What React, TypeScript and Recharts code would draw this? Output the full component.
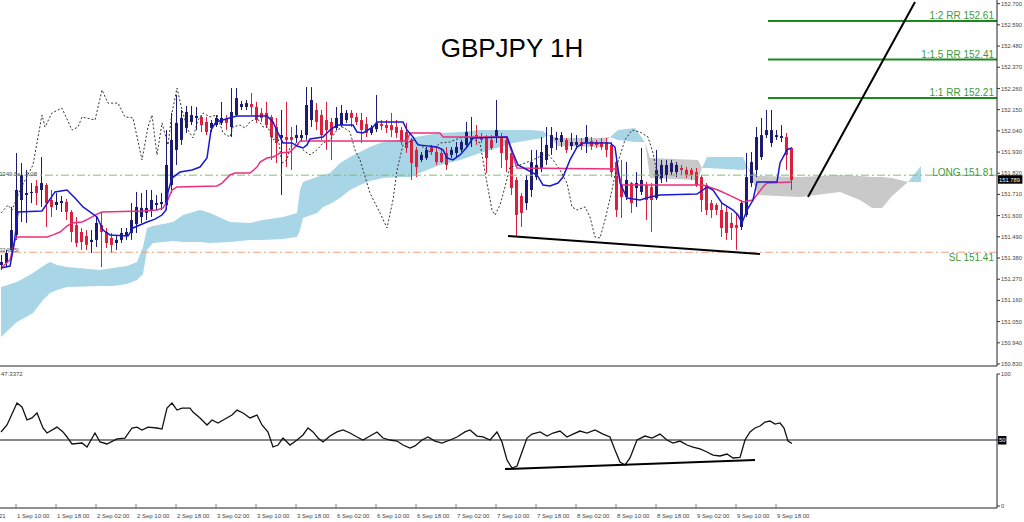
import React from "react";
import { Area, Bar, ComposedChart, Line, ReferenceLine, XAxis, YAxis } from "recharts";

// bar index 0 = 1 Sep 10:00, one bar per hour (weekend skipped)
const FIRST_BAR = -3;
const X_DOMAIN: [number, number] = [-3.2, 196.2];

const openPrices = [
  151.344, 151.354, 151.422, 151.5, 151.681, 151.707, 151.717, 151.754, 151.733, 151.759,
  151.681, 151.655, 151.665, 151.671, 151.619, 151.551, 151.515, 151.494, 151.463, 151.474,
  151.551, 151.515, 151.484, 151.458, 151.474, 151.494, 151.51, 151.556, 151.593, 151.614,
  151.629, 151.655, 151.66, 151.655, 151.759, 151.941, 151.993, 152.055, 152.086, 152.107,
  152.112, 152.086, 152.055, 152.07, 152.081, 152.101, 152.06, 152.122, 152.164, 152.164,
  152.179, 152.164, 152.133, 152.133, 152.112, 152.06, 152.003, 152.008, 152.008, 152.003,
  152.003, 152.018, 152.096, 152.148, 152.122, 152.096, 152.086, 152.055, 152.07, 152.096,
  152.133, 152.112, 152.096, 152.075, 152.029, 152.049, 152.075, 152.07, 152.07, 152.06,
  152.044, 152.034, 151.993, 151.941, 151.889, 151.899, 151.956, 151.93, 151.925, 151.925,
  151.915, 151.925, 151.941, 151.967, 151.993, 152.018, 152.008, 152.008, 151.993, 152.003,
  152.008, 151.993, 151.925, 151.785, 151.702, 151.665, 151.733, 151.8, 151.847, 151.889,
  151.951, 151.993, 151.982, 151.993, 151.961, 151.967, 151.982, 151.977, 151.987, 151.982,
  151.982, 151.982, 151.967, 151.878, 151.759, 151.697, 151.769, 151.743, 151.723, 151.759,
  151.749, 151.691, 151.795, 151.811, 151.826, 151.826, 151.847, 151.837, 151.837, 151.826,
  151.8, 151.759, 151.665, 151.655, 151.629, 151.619, 151.562, 151.551, 151.541, 151.603,
  151.769, 151.837, 151.904, 152.018, 151.977, 152.008, 152.003, 152.008, 151.951,
];
const highPrices = [
  151.396, 151.422, 151.645, 151.925, 151.873, 151.837, 151.769, 151.785, 151.904, 151.769,
  151.733, 151.717, 151.702, 151.686, 151.629, 151.593, 151.536, 151.525, 151.525, 151.593,
  151.614, 151.536, 151.51, 151.494, 151.536, 151.536, 151.665, 151.723, 151.717, 151.733,
  151.733, 151.707, 151.717, 152.044, 152.133, 152.226, 152.148, 152.169, 152.169, 152.164,
  152.122, 152.112, 152.096, 152.122, 152.19, 152.122, 152.262, 152.262, 152.195, 152.2,
  152.236, 152.19, 152.158, 152.19, 152.122, 152.107, 152.148, 152.19, 152.06, 152.07,
  152.044, 152.267, 152.267, 152.184, 152.148, 152.19, 152.107, 152.164, 152.174, 152.148,
  152.148, 152.133, 152.133, 152.112, 152.07, 152.226, 152.096, 152.096, 152.133, 152.096,
  152.06, 152.081, 152.003, 151.956, 151.93, 151.956, 151.967, 151.956, 151.951, 151.956,
  151.956, 151.982, 151.993, 152.086, 152.112, 152.07, 152.029, 152.018, 152.018, 152.2,
  152.029, 152.003, 151.956, 151.8, 151.717, 151.811, 151.941, 151.941, 152.008, 152.06,
  152.06, 152.034, 152.034, 152.003, 152.029, 152.018, 152.003, 152.07, 152.008, 151.993,
  152.003, 152.003, 151.982, 151.915, 151.889, 151.878, 151.775, 151.826, 151.951, 151.775,
  151.769, 151.941, 151.889, 151.889, 151.889, 151.878, 151.863, 151.852, 151.847, 151.847,
  151.811, 151.769, 151.681, 151.665, 151.665, 151.645, 151.614, 151.614, 151.681, 151.925,
  151.93, 152.06, 152.107, 152.148, 152.148, 152.044, 152.07, 152.029, 151.956,
];
const lowPrices = [
  151.318, 151.338, 151.396, 151.474, 151.567, 151.562, 151.665, 151.655, 151.645, 151.541,
  151.593, 151.629, 151.619, 151.577, 151.463, 151.437, 151.422, 151.422, 151.406, 151.437,
  151.333, 151.432, 151.406, 151.422, 151.458, 151.474, 151.474, 151.51, 151.562, 151.577,
  151.593, 151.629, 151.629, 151.629, 151.717, 151.863, 151.967, 152.029, 152.07, 152.044,
  152.034, 152.018, 152.034, 152.06, 152.07, 152.044, 152.008, 152.112, 152.148, 152.148,
  152.122, 152.081, 152.086, 152.055, 151.889, 151.873, 151.707, 151.852, 151.837, 151.977,
  151.982, 151.993, 152.06, 152.044, 151.993, 151.941, 151.889, 152.044, 152.06, 152.081,
  152.06, 152.07, 151.977, 152.008, 152.018, 152.034, 152.044, 152.029, 152.008, 152.003,
  151.967, 151.925, 151.785, 151.8, 151.878, 151.889, 151.915, 151.863, 151.873, 151.837,
  151.899, 151.904, 151.93, 151.956, 151.956, 151.967, 151.977, 151.821, 151.941, 151.977,
  151.847, 151.826, 151.707, 151.489, 151.541, 151.629, 151.697, 151.785, 151.826, 151.863,
  151.915, 151.941, 151.956, 151.925, 151.941, 151.951, 151.941, 151.925, 151.941, 151.951,
  151.941, 151.904, 151.8, 151.593, 151.588, 151.681, 151.614, 151.645, 151.707, 151.577,
  151.515, 151.681, 151.769, 151.775, 151.811, 151.8, 151.811, 151.795, 151.785, 151.749,
  151.619, 151.603, 151.588, 151.603, 151.489, 151.474, 151.474, 151.422, 151.525, 151.593,
  151.749, 151.8, 151.889, 152.003, 151.956, 151.993, 151.982, 151.837, 151.733,
];
const closePrices = [
  151.359, 151.406, 151.525, 151.733, 151.811, 151.717, 151.723, 151.717, 151.769, 151.665,
  151.645, 151.671, 151.676, 151.619, 151.515, 151.458, 151.463, 151.448, 151.474, 151.562,
  151.515, 151.458, 151.448, 151.474, 151.51, 151.515, 151.577, 151.645, 151.64, 151.64,
  151.681, 151.665, 151.671, 151.863, 151.993, 152.081, 152.107, 152.138, 152.122, 152.117,
  152.07, 152.034, 152.081, 152.107, 152.107, 152.081, 152.138, 152.21, 152.179, 152.184,
  152.164, 152.096, 152.107, 152.07, 152.008, 151.977, 152.018, 151.993, 151.993, 152.018,
  152.018, 152.174, 152.2, 152.086, 152.018, 152.044, 152.018, 152.107, 152.133, 152.133,
  152.107, 152.086, 152.044, 152.029, 152.055, 152.081, 152.065, 152.055, 152.044, 152.029,
  151.982, 151.951, 151.873, 151.852, 151.915, 151.941, 151.93, 151.878, 151.878, 151.863,
  151.941, 151.956, 151.982, 152.034, 152.008, 152.003, 151.993, 151.899, 151.951, 152.044,
  151.925, 151.889, 151.743, 151.603, 151.614, 151.785, 151.878, 151.863, 151.93, 151.967,
  152.018, 152.003, 152.018, 151.941, 151.982, 151.982, 151.961, 152.008, 151.961, 151.967,
  151.956, 151.941, 151.826, 151.629, 151.697, 151.785, 151.665, 151.769, 151.785, 151.681,
  151.681, 151.837, 151.863, 151.863, 151.873, 151.863, 151.837, 151.811, 151.811, 151.759,
  151.681, 151.629, 151.629, 151.629, 151.536, 151.51, 151.536, 151.536, 151.665, 151.8,
  151.878, 152.008, 152.018, 152.044, 152.044, 152.018, 152.013, 151.915, 151.785,
];
const lastPrice = 151.789;

// [bar index, price]
const tenkanLine: [number, number][] = [
  [-3, 151.328], [-1.2, 151.338], [-0.4, 151.448], [0.4, 151.619], [5.2, 151.624], [7.8, 151.723],
  [10.2, 151.733], [11.8, 151.691], [13.4, 151.645], [16.2, 151.593], [17.4, 151.525], [18.8, 151.5],
  [22.4, 151.494], [23.4, 151.536], [26.2, 151.567], [27.8, 151.582], [29.2, 151.603], [30, 151.629],
  [30.4, 151.723], [31.2, 151.795], [32.8, 151.826], [35.2, 151.837], [36.8, 151.852], [38.2, 151.899],
  [39, 152.044], [40, 152.086], [43.4, 152.112], [44.2, 152.117], [50.2, 152.117], [51.4, 152.086],
  [52.4, 152.029], [53.4, 151.977], [55.2, 151.977], [56.2, 151.961], [57.4, 151.951], [58.2, 151.967],
  [58.8, 151.998], [61.4, 152.008], [62.8, 152.044], [64.2, 152.07], [67.4, 152.07], [68.2, 152.034],
  [69.4, 152.029], [71.4, 152.06], [72.2, 152.086], [77.4, 152.086], [78.2, 152.044], [79.4, 152.008],
  [80.4, 151.967], [84.2, 151.956], [85.4, 151.941], [86.2, 151.899], [87.4, 151.889], [88.8, 151.915],
  [90.2, 151.956], [91.4, 152.003], [98.2, 152.008], [99.4, 151.925], [100.4, 151.863], [104.2, 151.811],
  [105.4, 151.759], [106.8, 151.754], [108.4, 151.769], [109.4, 151.8], [110.8, 151.889], [112.2, 151.956],
  [113.4, 151.977], [118.8, 151.977], [119.8, 151.956], [120.8, 151.769], [122.2, 151.691], [124.8, 151.681],
  [126.8, 151.697], [128.8, 151.707], [136.2, 151.712], [137.4, 151.733], [138.2, 151.749], [139.4, 151.733],
  [141.2, 151.665], [143.4, 151.629], [144.4, 151.603], [145.2, 151.562], [146.2, 151.629], [147.4, 151.681],
  [148.2, 151.775], [152.2, 151.775], [152.8, 151.873], [154.2, 151.941], [155, 151.951],
];
const kijunLine: [number, number][] = [
  [-3, 151.328], [-1.2, 151.37], [-0.2, 151.474], [0.2, 151.489], [6.2, 151.489], [7.4, 151.5],
  [8.8, 151.515], [10.2, 151.546], [11.2, 151.562], [13.2, 151.567], [14.4, 151.582], [16.2, 151.608],
  [17.2, 151.619], [25.4, 151.624], [28.2, 151.629], [29.4, 151.64], [30.2, 151.671], [31.2, 151.733],
  [32.2, 151.749], [40.2, 151.754], [41.2, 151.769], [42.8, 151.811], [43.8, 151.821], [46.8, 151.821],
  [48.2, 151.852], [48.8, 151.878], [50.2, 151.899], [51.4, 151.904], [52.8, 151.925], [54.8, 151.93],
  [56.2, 151.967], [56.8, 151.987], [78.2, 151.987], [78.8, 152.029], [84.8, 152.029], [85.4, 152.008],
  [98.2, 152.008], [99, 151.941], [100.2, 151.847], [120.2, 151.842], [121.2, 151.759], [137.4, 151.759],
  [140.4, 151.733], [143.4, 151.697], [145.4, 151.671], [147.4, 151.681], [149.4, 151.749], [150.2, 151.769],
  [155, 151.775],
];
const chikouLine: [number, number][] = [
  [-3, 151.614], [-1.6, 151.655], [-0.8, 151.629], [0.8, 151.733], [3.4, 151.863], [5.2, 152.122],
  [5.8, 152.06], [7.2, 152.133], [9.2, 152.158], [11.2, 152.044], [12.4, 152.06], [13.2, 152.112],
  [15.8, 152.096], [17.2, 152.252], [18.4, 152.184], [20.4, 152.184], [21.8, 152.112], [23.4, 152.107],
  [25.2, 151.889], [26.4, 152.06], [27.2, 152.122], [28.2, 151.915], [29.2, 152.081], [30.4, 151.967],
  [31.2, 152.133], [32.2, 152.262], [33.2, 152.148], [34.4, 152.044], [35.4, 152.003], [36.4, 152.096],
  [37.4, 152.133], [38.8, 152.112], [40.2, 152.122], [41.4, 152.029], [42.8, 152.008], [43.4, 152.06],
  [44.8, 152.07], [45.8, 152.055], [46.8, 152.086], [48.2, 152.107], [49.4, 152.06], [50.4, 152.06],
  [51.4, 151.993], [52.4, 152.008], [53.2, 151.873], [54.2, 151.889], [54.8, 151.956], [56.2, 151.977],
  [57.4, 151.941], [58.8, 151.915], [60.2, 151.941], [61.4, 151.977], [62.8, 151.993], [64.2, 152.044],
  [65.4, 152.06], [66.8, 152.034], [67.8, 151.941], [68.8, 151.889], [70.8, 151.717], [72.8, 151.614],
  [74.2, 151.536], [75.4, 151.681], [76.2, 151.837], [77.4, 151.967], [79.4, 151.993], [81.4, 151.956],
  [82.8, 151.93], [84.8, 151.977], [86.8, 151.982], [88.8, 152.003], [90.8, 152.008], [92.8, 151.977],
  [94.2, 151.769], [95.2, 151.629], [95.8, 151.603], [96.8, 151.655], [97.8, 151.749], [98.8, 151.852],
  [100.8, 151.863], [103.4, 151.889], [106.2, 151.925], [107.4, 151.889], [108.8, 151.837], [110.2, 151.769],
  [111.2, 151.645], [112.2, 151.629], [113.8, 151.645], [114.8, 151.593], [115.8, 151.489], [116.8, 151.484],
  [117.8, 151.577], [119.2, 151.733], [120.2, 151.863], [121.8, 151.993], [123.2, 152.044], [124.8, 152.034],
  [126.4, 152.008], [127.4, 151.925], [128.2, 151.821], [129, 151.785],
];

// cloud pieces: [bar index, upper edge, lower edge]
const cloudBlue1: [number, number, number][] = [
  [-3, 151.229, 150.97], [0.2, 151.255, 151.048], [3.4, 151.302, 151.095], [5.4, 151.338, 151.162],
  [6.8, 151.359, 151.198], [8.2, 151.344, 151.214], [10.2, 151.333, 151.229], [16.8, 151.318, 151.235],
  [19.4, 151.328, 151.235], [22.2, 151.338, 151.245], [24.2, 151.359, 151.266], [25.4, 151.437, 151.297],
  [26.2, 151.536, 151.422], [27.4, 151.546, 151.458], [31.4, 151.567, 151.468], [33.4, 151.603, 151.463],
  [36.8, 151.629, 151.463], [38.8, 151.614, 151.458], [42.8, 151.567, 151.463], [46.8, 151.562, 151.474],
  [49.4, 151.577, 151.474], [53.4, 151.593, 151.479], [56.2, 151.614, 151.489], [56.8, 151.733, 151.525],
  [57.4, 151.775, 151.588], [60.2, 151.8, 151.614], [61.4, 151.811, 151.645], [62.8, 151.821, 151.66],
  [64.8, 151.873, 151.691], [66.8, 151.904, 151.733], [68.8, 151.93, 151.759], [70.8, 151.956, 151.78],
  [73.4, 151.982, 151.795], [76.8, 151.993, 151.8], [78.8, 152.003, 151.8], [82.2, 152.018, 151.837],
  [84.8, 152.029, 151.863], [88.8, 152.034, 151.889], [92.8, 152.044, 151.925], [96.8, 152.044, 151.956],
  [99.4, 152.044, 151.977], [102.8, 152.044, 151.993], [105.4, 152.039, 152.003], [106.4, 152.018, 152.018],
];
const cloudGray1: [number, number, number][] = [
  [106.4, 152.018, 152.018], [108.4, 152.003, 151.961], [116.8, 152.003, 151.956], [118.8, 152.008, 152.008],
];
const cloudBlue2: [number, number, number][] = [
  [118.8, 152.008, 152.008], [120.4, 152.044, 151.993], [123.8, 152.055, 151.982], [125.8, 151.982, 151.982],
];
const cloudGray2: [number, number, number][] = [
  [125.8, 151.982, 151.982], [126.8, 151.899, 151.795], [136.4, 151.889, 151.785], [137.2, 151.847, 151.847],
];
const cloudBlue3: [number, number, number][] = [
  [137.2, 151.847, 151.847], [138.2, 151.904, 151.847], [145.4, 151.904, 151.837], [146.4, 151.847, 151.847],
];
const cloudGray3: [number, number, number][] = [
  [146.4, 151.847, 151.847], [148.4, 151.806, 151.707], [156.8, 151.8, 151.697], [164.8, 151.811, 151.723],
  [168.8, 151.806, 151.681], [171.2, 151.8, 151.64], [173.2, 151.8, 151.64], [175.2, 151.795, 151.702],
  [178.4, 151.775, 151.775],
];
const cloudBlue4: [number, number, number][] = [
  [178.4, 151.775, 151.775], [181, 151.857, 151.775],
];

// [bar index, RSI]
const rsiLine: [number, number][] = [
  [-3, 56.1], [-1.8, 61.4], [0.2, 78], [1.2, 75], [2.2, 65.2], [3.2, 66.7], [4.2, 70.5], [5.4, 59.1],
  [6.2, 55.3], [8.2, 59.8], [9.4, 56.1], [10.2, 52.3], [11.2, 47], [13.2, 47.7], [14.2, 44.7], [15.8, 55.3],
  [16.8, 48.5], [18.2, 47], [20.2, 50.8], [21.8, 51.5], [23.2, 59.1], [24.2, 59.8], [25.2, 57.6], [26.4, 59.8],
  [28.2, 59.1], [29.2, 58.3], [30.2, 74.2], [31.2, 78], [32.2, 72.7], [33.2, 74.2], [34.8, 74.2], [35.4, 71.2],
  [36.8, 66.7], [38.2, 61.4], [39.2, 65.2], [40.4, 62.9], [41.8, 65.9], [43.2, 68.9], [44.2, 72.7], [45.4, 70.5],
  [46.8, 66.7], [48.2, 68.9], [49.2, 61.4], [50.4, 56.1], [51.4, 44.7], [52.4, 46.2], [53.4, 51.5], [54.8, 46.2],
  [56.2, 50], [57.4, 53.8], [58.4, 59.1], [59.4, 56.1], [60.4, 51.5], [61.4, 48.5], [62.8, 53], [64.2, 56.1],
  [65.4, 57.6], [66.8, 55.3], [68.2, 52.3], [69.4, 50], [70.8, 53], [72.2, 56.1], [73.4, 51.5], [74.8, 50],
  [76.2, 49.2], [77.4, 46.2], [78.8, 43.9], [79.8, 45.5], [81.2, 50], [82.4, 52.3], [83.8, 49.2], [85.2, 47.7],
  [86.8, 50], [88.2, 52.3], [89.8, 56.1], [90.8, 57.6], [92.2, 53], [93.4, 52.3], [94.8, 50], [96.2, 56.1],
  [97.2, 48.5], [98.2, 34.8], [99.2, 28.8], [100.2, 30.3], [101.2, 40.9], [102.2, 51.5], [103.2, 54.5],
  [104.8, 56.1], [106.2, 53], [107.4, 55.3], [108.8, 56.8], [110.2, 52.3], [111.4, 54.5], [112.8, 56.8],
  [114.2, 55.3], [115.8, 57.6], [117.4, 54.5], [118.8, 52.3], [119.8, 42.4], [120.8, 33.3], [121.8, 31.1],
  [122.8, 36.4], [124.2, 50], [125.8, 53], [127.2, 51.5], [128.8, 54.5], [130.2, 50], [131.4, 47.7],
  [132.8, 49.2], [134.2, 46.2], [135.4, 44.7], [136.8, 43.2], [138.2, 40.9], [139.4, 38.6], [140.8, 37.9],
  [142.2, 39.4], [143.4, 36.4], [144.8, 36.8], [145.8, 50], [146.8, 56.1], [147.8, 59.1], [148.8, 60.6],
  [149.8, 63.6], [150.8, 64.4], [151.8, 62.1], [152.8, 62.9], [153.6, 59.1], [154.4, 49.2], [155.2, 47.3],
];
const rsiLastValue = "47.3372";

const priceTicks = [
  150.83, 150.94, 151.05, 151.16, 151.27, 151.38, 151.49, 151.6, 151.71, 151.82, 151.93, 152.04, 152.15,
  152.26, 152.37, 152.48, 152.59, 152.7,
];
const rsiTicks = [0, 50, 100];
const timeTickIdx = [0, 8, 16, 24, 32, 40, 48, 56, 64, 72, 80, 88, 96, 104, 112, 120, 128, 136, 144, 152];
const timeTickLabels = [
  "1 Sep 10:00", "1 Sep 18:00", "2 Sep 02:00", "2 Sep 10:00", "2 Sep 18:00", "3 Sep 02:00", "3 Sep 10:00",
  "3 Sep 18:00", "6 Sep 02:00", "6 Sep 10:00", "6 Sep 18:00", "7 Sep 02:00", "7 Sep 10:00", "7 Sep 18:00",
  "8 Sep 02:00", "8 Sep 10:00", "8 Sep 18:00", "9 Sep 02:00", "9 Sep 10:00", "9 Sep 18:00",
];

const rrLevels = [152.61, 152.41, 152.21];
const rrLabels = ["1:2 RR 152.61", "1:1.5 RR 152.41", "1:1 RR 152.21"];
const rrStartBar = 150.4;
const longLevel = 151.81;
const slLevel = 151.41;

const projectionLine: [number, number][] = [[158.4, 151.697], [179.8, 152.709]];
const priceSupportLine: [number, number][] = [[98.4, 151.494], [148.8, 151.401]];
const rsiSupportLine: [number, number][] = [[97.8, 28.0], [147.8, 34.8]];

const UP = "#1b1b72";
const DOWN = "#dc1f3d";
const GREEN_TEXT = "#3d9a3d";
const FONT = "'Liberation Sans', Arial, sans-serif";

const candleRows = closePrices.map((c, i) => ({
  x: FIRST_BAR + i,
  range: [lowPrices[i], highPrices[i]],
  o: openPrices[i],
  h: highPrices[i],
  l: lowPrices[i],
  c,
}));
const toPoints = (pairs: [number, number][]) => pairs.map(([x, v]) => ({ x, v }));
const toBand = (rows: [number, number, number][]) => rows.map(([x, top, bottom]) => ({ x, band: [bottom, top] }));
const toSegment = (pairs: [number, number][]) => pairs.map(([x, y]) => ({ x, y }));

const Candle = (props: any) => {
  const { x, y, width, height, payload } = props;
  if (!payload || height == null) return null;
  const { o, h, l, c } = payload;
  const span = h - l || 1;
  const at = (v: number) => y + ((h - v) / span) * height;
  const color = c >= o ? UP : DOWN;
  const mid = Math.round(x + width / 2) + 0.5;
  const top = at(Math.max(o, c));
  const bottom = at(Math.min(o, c));
  return (
    <g>
      <line x1={mid} x2={mid} y1={y} y2={y + height} stroke={color} strokeWidth={1} />
      <rect x={mid - 1.5} y={top} width={3} height={Math.max(1, bottom - top)} fill={color} />
    </g>
  );
};

const sideLabel = (text: string, dy: number) => (props: any) => {
  const vb = props.viewBox || props;
  return (
    <text x={vb.x + vb.width - 3} y={vb.y + dy} textAnchor="end" fill={GREEN_TEXT} fontSize={10} fontFamily={FONT}>
      {text}
    </text>
  );
};

const axisBox = (text: string) => (props: any) => {
  const vb = props.viewBox || props;
  const bx = vb.x + vb.width;
  return (
    <g>
      <rect x={bx + 1} y={vb.y - 4} width={text.length * 3.2 + 2} height={8.5} fill="#000" />
      <text x={bx + 2} y={vb.y + 2.3} fill="#fff" fontSize={5.8} fontFamily={FONT}>
        {text}
      </text>
    </g>
  );
};

const TimeTick = (props: any) => {
  const { x, y, payload } = props;
  const label = timeTickLabels[timeTickIdx.indexOf(payload.value)];
  return (
    <g>
      <line x1={x} x2={x} y1={y - 12} y2={y - 8} stroke="#666" strokeWidth={0.8} />
      <text x={x + 1} y={y + 2} fontSize={6} fill="#444" fontFamily={FONT}>
        {label}
      </text>
    </g>
  );
};

const RsiTick = (props: any) => {
  const { x, y, payload } = props;
  if (payload.value === 50) return null;
  return (
    <text x={x} y={y + 2} fontSize={5.8} fill="#444" fontFamily={FONT}>
      {payload.value}
    </text>
  );
};

const PriceChart = () => (
  <ComposedChart width={1024} height={367} data={candleRows} margin={{ top: 0, right: 0, bottom: 0, left: 0 }}>
    <XAxis type="number" dataKey="x" domain={X_DOMAIN} allowDataOverflow tick={false} tickLine={false} height={1} axisLine={{ stroke: "#222" }} />
    <YAxis
      orientation="right"
      width={27}
      domain={[150.8196, 152.719]}
      allowDataOverflow
      ticks={priceTicks}
      interval={0}
      tickSize={3}
      tickMargin={1}
      tickLine={{ stroke: "#333" }}
      axisLine={{ stroke: "#222" }}
      tick={{ fontSize: 5.8, fill: "#444", fontFamily: FONT }}
      tickFormatter={(v: number) => v.toFixed(3)}
    />
    {[cloudBlue1, cloudBlue2, cloudBlue3, cloudBlue4].map((piece, i) => (
      <Area key={`b${i}`} data={toBand(piece)} dataKey="band" type="linear" stroke="none" fill="#a9d6e6" fillOpacity={1} dot={false} activeDot={false} isAnimationActive={false} />
    ))}
    {[cloudGray1, cloudGray2, cloudGray3].map((piece, i) => (
      <Area key={`g${i}`} data={toBand(piece)} dataKey="band" type="linear" stroke="none" fill="#c9c9c9" fillOpacity={1} dot={false} activeDot={false} isAnimationActive={false} />
    ))}
    <ReferenceLine y={longLevel} stroke="#82bd70" strokeDasharray="8 3 2 3" label={sideLabel("LONG 151.81", 1)} />
    <ReferenceLine y={slLevel} stroke="#f2a384" strokeDasharray="8 3 2 3" label={sideLabel("SL 151.41", 9)} />
    <Bar dataKey="range" shape={<Candle />} barSize={3} isAnimationActive={false} />
    <Line data={toPoints(chikouLine)} dataKey="v" type="linear" stroke="#333" strokeWidth={1} strokeDasharray="2 2" dot={false} activeDot={false} isAnimationActive={false} />
    <Line data={toPoints(kijunLine)} dataKey="v" type="linear" stroke="#ec2f7d" strokeWidth={1.5} dot={false} activeDot={false} isAnimationActive={false} />
    <Line data={toPoints(tenkanLine)} dataKey="v" type="linear" stroke="#1818d4" strokeWidth={1.5} dot={false} activeDot={false} isAnimationActive={false} />
    {rrLevels.map((lvl, i) => (
      <ReferenceLine
        key={lvl}
        segment={[{ x: rrStartBar, y: lvl }, { x: X_DOMAIN[1], y: lvl }]}
        ifOverflow="visible"
        stroke="#1d8a1d"
        strokeWidth={2}
        label={sideLabel(rrLabels[i], -2)}
      />
    ))}
    <ReferenceLine segment={toSegment(projectionLine)} ifOverflow="visible" stroke="#000" strokeWidth={2} />
    <ReferenceLine segment={toSegment(priceSupportLine)} ifOverflow="visible" stroke="#000" strokeWidth={2} />
    <ReferenceLine y={lastPrice} stroke="none" label={axisBox(lastPrice.toFixed(3))} />
  </ComposedChart>
);

const RsiChart = () => (
  <ComposedChart width={1024} height={156} margin={{ top: 8, right: 0, bottom: 0, left: 0 }}>
    <XAxis
      type="number"
      dataKey="x"
      domain={X_DOMAIN}
      allowDataOverflow
      ticks={timeTickIdx}
      interval={0}
      tickSize={6}
      tickMargin={2}
      tickLine={false}
      tick={<TimeTick />}
      height={14}
      axisLine={{ stroke: "#222" }}
    />
    <YAxis
      orientation="right"
      width={27}
      domain={[-1.5, 100]}
      allowDataOverflow
      ticks={rsiTicks}
      interval={0}
      tickSize={3}
      tickMargin={1}
      tickLine={{ stroke: "#333" }}
      axisLine={{ stroke: "#222" }}
      tick={<RsiTick />}
    />
    <ReferenceLine y={50} stroke="#111" strokeWidth={1} label={axisBox("50")} />
    <Line data={toPoints(rsiLine)} dataKey="v" type="linear" stroke="#111" strokeWidth={1.3} dot={false} activeDot={false} isAnimationActive={false} />
    <ReferenceLine segment={toSegment(rsiSupportLine)} ifOverflow="visible" stroke="#000" strokeWidth={2} />
  </ComposedChart>
);

export default function App() {
  return (
    <div style={{ position: "absolute", left: 0, top: 0, width: 1024, height: 522, background: "#fff", fontFamily: FONT, overflow: "hidden" }}>
      <div style={{ position: "absolute", left: 0, top: 0 }}>
        <PriceChart />
      </div>
      <div style={{ position: "absolute", left: 0, top: 366 }}>
        <RsiChart />
      </div>
      <svg width={1024} height={522} style={{ position: "absolute", left: 0, top: 0, pointerEvents: "none" }}>
        <text x={512} y={57} textAnchor="middle" fontSize={26} fill="#000" fontFamily={FONT}>
          GBPJPY 1H
        </text>
        <text x={-1} y={176} fontSize={6} fill="#555" fontFamily={FONT}>
          0249 5s : 3.08
        </text>
        <text x={-1} y={252} fontSize={6} fill="#555" fontFamily={FONT}>
          0249 5l
        </text>
        <text x={1} y={376} fontSize={6} fill="#444" fontFamily={FONT}>
          {rsiLastValue}
        </text>
        <text x={-1} y={518} fontSize={6} fill="#444" fontFamily={FONT}>
          21
        </text>
      </svg>
    </div>
  );
}
